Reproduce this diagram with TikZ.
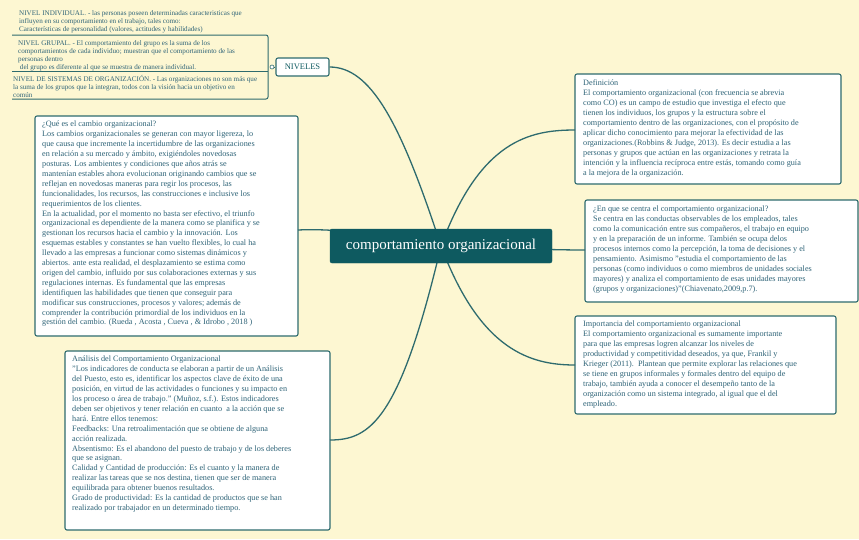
\documentclass[tikz,border=0pt]{standalone}
\usepackage{fontspec}
\setmainfont{Liberation Serif}
\definecolor{bg}{HTML}{FDF7D2}
\definecolor{edge}{HTML}{2E6B6E}
\definecolor{txt}{HTML}{2F6478}
\definecolor{cen}{HTML}{0E5A60}
\begin{document}
\begin{tikzpicture}[x=1pt,y=-1pt,
  box/.style={draw=edge,line width=1.1pt,rounded corners=2pt,fill=white,anchor=north west,inner sep=0pt},
  tx/.style={anchor=north west,align=left,text=txt,font=\fontsize{8.2}{9.9}\selectfont,inner sep=0pt},
  lv/.style={tx,font=\fontsize{7.1}{8}\selectfont},
  link/.style={draw=edge,line width=1.3pt}]
\fill[bg] (0,0) rectangle (859,539);
\useasboundingbox (0,0) rectangle (859,539);
% boxes
\draw[box] (35,116) rectangle (298,336);
\draw[box] (65,351) rectangle (330,530);
\draw[box] (575,74) rectangle (841,184);
\draw[box] (585,200) rectangle (858,302);
\draw[box] (575,316) rectangle (836,414);
\node[draw=edge,line width=1.1pt,rounded corners=2pt,fill=white,minimum width=53pt,minimum height=18pt,text=cen,font=\fontsize{8.5}{9}\selectfont] (niv) at (302.5,67) {NIVELES};
% left levels underline boxes
\draw[edge,line width=1pt] (12,35) -- (266,35) to[out=0,in=90] (268,37) -- (268,97) to[out=-90,in=0] (266,99) -- (12,99);
\draw[edge,line width=1pt] (12,71) -- (268,71);
\node[draw=edge,circle,inner sep=0pt,minimum size=4pt,fill=white,line width=0.6pt] (dot) at (272,67) {};
\draw[edge,line width=0.8pt] (dot) -- (niv.west);
% connectors
\coordinate (cc) at (441,246);
\coordinate (a1) at (298,230);
\coordinate (a2) at (330,440);
\coordinate (b1) at (575,130);
\coordinate (b2) at (585,250);
\coordinate (b3) at (575,365);
\draw[link] (cc) .. controls (400,120) and (370,67) .. (niv.east);
\draw[link] (cc) .. controls (390,236) and (340,228) .. (a1);
\draw[link] (cc) .. controls (400,420) and (370,440) .. (a2);
\draw[link] (cc) .. controls (480,140) and (530,130) .. (b1);
\draw[link] (cc) .. controls (500,248) and (550,250) .. (b2);
\draw[link] (cc) .. controls (480,350) and (530,365) .. (b3);
\node[draw=cen,fill=cen,rounded corners=2pt,minimum width=222pt,minimum height=34pt,text=white,font=\fontsize{15}{17}\selectfont] (c) at (cc) {comportamiento organizacional};
% texts
\node[lv] (t1) at (19,10) {NIVEL INDIVIDUAL. - las personas poseen determinadas caracteristicas que\\ influyen en su comportamiento en el trabajo, tales como:\\ Características de personalidad (valores, actitudes y habilidades)};
\node[lv] (t2) at (18,40) {NIVEL GRUPAL. - El comportamiento del grupo es la suma de los\\ comportamientos de cada individuo; muestran que el comportamiento de las\\ personas dentro\\ \ del grupo es diferente al que se muestra de manera individual.};
\node[lv] (t3) at (13,75) {NIVEL DE SISTEMAS DE ORGANIZACIÓN. - Las organizaciones no son más que\\ la suma de los grupos que la integran, todos con la visión hacia un objetivo en\\ común};
\node[tx] (t4) at (42,121) {¿Qué es el cambio organizacional?\\
Los cambios organizacionales se generan con mayor ligereza, lo\\
que causa que incremente la incertidumbre de las organizaciones\\
en relación a su mercado y ámbito, exigiéndoles novedosas\\
posturas. Los ambientes y condiciones que años atrás se\\
mantenían estables ahora evolucionan originando cambios que se\\
reflejan en novedosas maneras para regir los procesos, las\\
funcionalidades, los recursos, las construcciones e inclusive los\\
requerimientos de los clientes.\\
En la actualidad, por el momento no basta ser efectivo, el triunfo\\
organizacional es dependiente de la manera como se planifica y se\\
gestionan los recursos hacia el cambio y la innovación. Los\\
esquemas estables y constantes se han vuelto flexibles, lo cual ha\\
llevado a las empresas a funcionar como sistemas dinámicos y\\
abiertos. ante esta realidad, el desplazamiento se estima como\\
origen del cambio, influido por sus colaboraciones externas y sus\\
regulaciones internas. Es fundamental que las empresas\\
identifiquen las habilidades que tienen que conseguir para\\
modificar sus construcciones, procesos y valores; además de\\
comprender la contribución primordial de los individuos en la\\
gestión del cambio. (Rueda , Acosta , Cueva , \& Idrobo , 2018 )};
\node[tx] (t5) at (72,356) {Análisis del Comportamiento Organizacional\\
"Los indicadores de conducta se elaboran a partir de un Análisis\\
del Puesto, esto es, identificar los aspectos clave de éxito de una\\
posición, en virtud de las actividades o funciones y su impacto en\\
los proceso o área de trabajo." (Muñoz, s.f.). Estos indicadores\\
deben ser objetivos y tener relación en cuanto\ \ a la acción que se\\
hará. Entre ellos tenemos:\\
Feedbacks: Una retroalimentación que se obtiene de alguna\\
acción realizada.\\
Absentismo: Es el abandono del puesto de trabajo y de los deberes\\
que se asignan.\\
Calidad y Cantidad de producción: Es el cuanto y la manera de\\
realizar las tareas que se nos destina, tienen que ser de manera\\
equilibrada para obtener buenos resultados.\\
Grado de productividad: Es la cantidad de productos que se han\\
realizado por trabajador en un determinado tiempo.};
\node[tx] (t6) at (583,80) {Definición\\
El comportamiento organizacional (con frecuencia se abrevia\\
como CO) es un campo de estudio que investiga el efecto que\\
tienen los individuos, los grupos y la estructura sobre el\\
comportamiento dentro de las organizaciones, con el propósito de\\
aplicar dicho conocimiento para mejorar la efectividad de las\\
organizaciones.(Robbins \& Judge, 2013). Es decir estudia a las\\
personas y grupos que actúan en las organizaciones y retrata la\\
intención y la influencia recíproca entre estás, tomando como guía\\
a la mejora de la organización.};
\node[tx] (t7) at (593,206) {¿En que se centra el comportamiento organizacional?\\
Se centra en las conductas observables de los empleados, tales\\
como la comunicación entre sus compañeros, el trabajo en equipo\\
y en la preparación de un informe. También se ocupa delos\\
procesos internos como la percepción, la toma de decisiones y el\\
pensamiento. Asimismo "estudia el comportamiento de las\\
personas (como individuos o como miembros de unidades sociales\\
mayores) y analiza el comportamiento de esas unidades mayores\\
(grupos y organizaciones)"(Chiavenato,2009,p.7).};
\node[tx] (t8) at (583,321) {Importancia del comportamiento organizacional\\
El comportamiento organizacional es sumamente importante\\
para que las empresas logren alcanzar los niveles de\\
productividad y competitividad deseados, ya que, Frankil y\\
Krieger (2011).\ \ Plantean que permite explorar las relaciones que\\
se tiene en grupos informales y formales dentro del equipo de\\
trabajo, también ayuda a conocer el desempeño tanto de la\\
organización como un sistema integrado, al igual que el del\\
empleado.};
\end{tikzpicture}
\end{document}
